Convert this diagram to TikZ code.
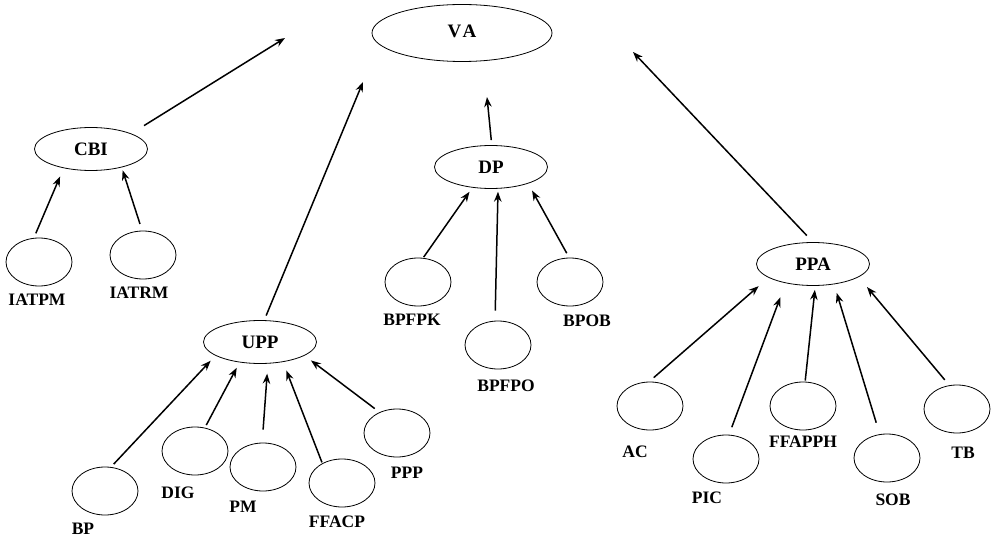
\documentclass[tikz,border=0pt]{standalone}
\usepackage{fontspec}
\setmainfont{Liberation Serif}
\usetikzlibrary{shapes.geometric,arrows.meta}

\tikzset{
  every factor/.style={ellipse, draw, line width=0.8pt, inner sep=0pt,
    font=\bfseries\fontsize{19}{21}\selectfont},
  every leaf/.style={ellipse, draw, line width=0.8pt, inner sep=0pt,
    minimum width=66pt, minimum height=48pt},
  leaf text/.style={font=\bfseries\fontsize{17.5}{19}\selectfont},
  link/.style={->, line width=1.5pt}
}

\begin{document}
\begin{tikzpicture}[x=1pt, y=-1pt, >={Stealth[length=10pt,width=7.5pt]}]
\useasboundingbox (0,0) rectangle (992,537);

\node [every factor, minimum width=180pt, minimum height=57pt] (VA) at (462,33)
  {\raisebox{4pt}{V\kern1.5pt A}};

\foreach \m/\x/\y in {CBI/91/149, UPP/260/342, DP/491/167, PPA/813/264}
  \node [every factor, minimum width=113pt, minimum height=43pt] (\m) at (\x,\y) {\m};

\foreach \m/\x/\y/\lx/\ly in {IATPM/39/262/37/300, IATRM/143/255/139/293,
    BP/105/491/83/529, DIG/195/451/178/493, PM/263/467/243/507,
    FFACP/342/483/337/522, PPP/397/433/407/473,
    BPFPK/418/282/412/320, BPFPO/498/345/506/386, BPOB/570/282/587/321,
    AC/650/406/635/452, PIC/726/459/707/498, FFAPPH/803/406/803/442,
    SOB/887/458/893/500, TB/957/409/963/453}
{
  \node [every leaf] (\m) at (\x,\y) {};
  \node [leaf text] (\m-text) at (\lx,\ly) {\m};
}

% loose tips towards VA
\coordinate (CBI-up) at (285,38);
\coordinate (UPP-up) at (363,82);
\coordinate (DP-up) at (487,97);
\coordinate (PPA-up) at (633,52);

\foreach \c/\a/\sa in {CBI/21/15, UPP/79/5, DP/88/5, PPA/90/9}
  \draw [link, shorten <=\sa] (\c.\a) -- (\c-up);

\foreach \c/\a/\sa/\p/\b/\sb in {IATPM/102/5/CBI/215/9, IATRM/92/7/CBI/329/3,
    BP/76/4/UPP/197/7, DIG/67/3/UPP/225/6, PM/92/13/UPP/290/10,
    FFACP/135/1/UPP/319/9, PPP/130/6/UPP/343/8,
    BPFPK/78/1/DP/228/5, BPFPO/97/10/DP/288/3, BPOB/92/5/DP/336/8,
    AC/92/6/PPA/197/13, PIC/83/8/PPA/215/15, FFAPPH/85/1/PPA/276/4,
    SOB/107/12/PPA/316/9, TB/108/7/PPA/344/13}
  \draw [link, shorten <=\sa, shorten >=\sb] (\c.\a) -- (\p.\b);
\end{tikzpicture}
\end{document}
